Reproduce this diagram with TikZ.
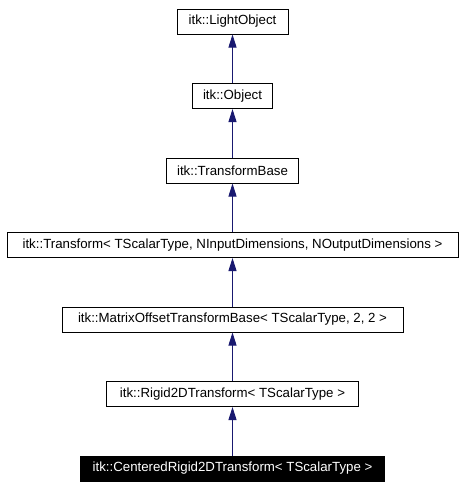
\documentclass[tikz,border=0pt]{standalone}
\usepackage{fontspec}
\setmainfont{Liberation Sans}
\usetikzlibrary{arrows.meta}
\definecolor{edgeblue}{HTML}{191970}
\begin{document}
\begin{tikzpicture}[x=0.75pt,y=-0.75pt,
  cls/.style={draw=black,line width=0.75pt,fill=white,minimum height=25*0.75pt,inner sep=0pt,font=\fontsize{9.95pt}{11pt}\selectfont},
  cur/.style={cls,fill=black,text=white},
  inh/.style={draw=edgeblue,line width=0.75pt,-{Triangle[length=13*0.75pt,width=8*0.75pt]}}]
\useasboundingbox (0,0) rectangle (463,490);
\node[cls,minimum width=111*0.75pt] (lo) at (232.5,21.5) {itk::LightObject};
\node[cls,minimum width=80*0.75pt] (ob) at (232.5,96) {itk::Object};
\node[cls,minimum width=132*0.75pt] (tb) at (232.5,170.5) {itk::TransformBase};
\node[cls,minimum width=451*0.75pt] (tr) at (232.5,245) {itk::Transform< TScalarType, NInputDimensions, NOutputDimensions >};
\node[cls,minimum width=341*0.75pt] (mo) at (232.5,319.5) {itk::MatrixOffsetTransformBase< TScalarType, 2, 2 >};
\node[cls,minimum width=252*0.75pt] (rg) at (232.5,394) {itk::Rigid2DTransform< TScalarType >};
\node[cur,minimum width=304*0.75pt] (cr) at (232.5,468.5) {itk::CenteredRigid2DTransform< TScalarType >};
\draw[inh] (ob.north) -- (lo.south);
\draw[inh] (tb.north) -- (ob.south);
\draw[inh] (tr.north) -- (tb.south);
\draw[inh] (mo.north) -- (tr.south);
\draw[inh] (rg.north) -- (mo.south);
\draw[inh] (cr.north) -- (rg.south);
\end{tikzpicture}
\end{document}
